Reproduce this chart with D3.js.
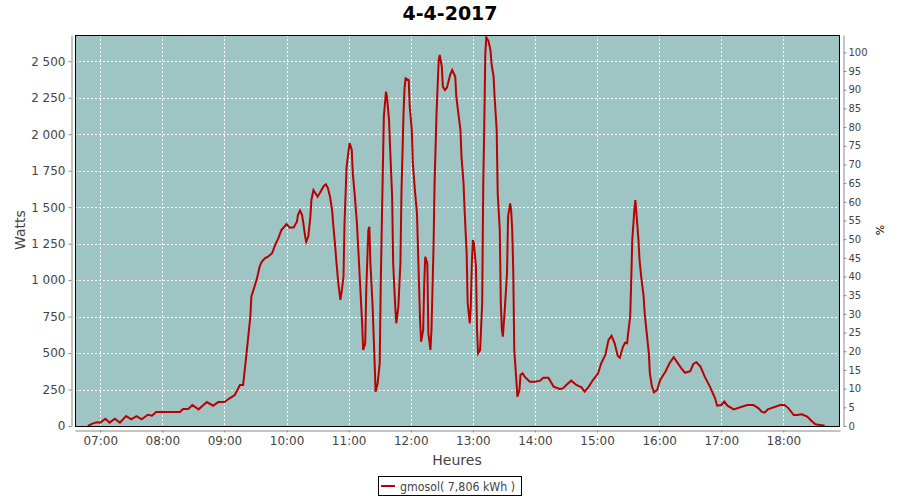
<!DOCTYPE html>
<html><head><meta charset="utf-8">
<script src="https://cdn.jsdelivr.net/npm/d3@7"></script>
<style>body{margin:0;background:#fff;} svg{display:block;}</style>
</head><body>
<svg id="chart" width="900" height="500"></svg>
<script>
const title = "4-4-2017";
const seriesName = "gmosol( 7,806 kWh )";
const times = ["06:48","06:53","06:57","07:00","07:05","07:09","07:14","07:19","07:25","07:30","07:35","07:40","07:46","07:50","07:54","08:17","08:20","08:25","08:29","08:35","08:43","08:49","08:54","09:00","09:05","09:10","09:15","09:18","09:21","09:25","09:26","09:28","09:31","09:34","09:36","09:39","09:42","09:46","09:49","09:52","09:55","10:00","10:03","10:07","10:10","10:11","10:13","10:15","10:16","10:18","10:19","10:21","10:23","10:24","10:26","10:27","10:30","10:32","10:36","10:38","10:40","10:42","10:44","10:45","10:47","10:48","10:50","10:52","10:53","10:55","10:56","10:58","11:00","11:01","11:03","11:04","11:06","11:08","11:09","11:11","11:13","11:14","11:16","11:17","11:19","11:20","11:21","11:23","11:25","11:26","11:28","11:30","11:31","11:33","11:34","11:36","11:37","11:39","11:40","11:42","11:43","11:45","11:46","11:48","11:50","11:51","11:53","11:54","11:55","11:58","11:59","12:01","12:02","12:04","12:06","12:07","12:09","12:10","12:12","12:13","12:14","12:16","12:17","12:19","12:20","12:22","12:23","12:25","12:27","12:28","12:30","12:31","12:33","12:35","12:38","12:40","12:43","12:44","12:46","12:48","12:49","12:51","12:52","12:54","12:55","12:57","12:58","12:59","13:00","13:01","13:03","13:04","13:05","13:07","13:09","13:10","13:11","13:12","13:13","13:15","13:17","13:18","13:20","13:21","13:23","13:24","13:26","13:27","13:28","13:29","13:31","13:33","13:34","13:36","13:37","13:38","13:39","13:40","13:42","13:43","13:45","13:46","13:48","13:50","13:55","14:00","14:05","14:08","14:13","14:18","14:24","14:27","14:31","14:35","14:40","14:45","14:48","14:52","14:56","15:01","15:04","15:08","15:11","15:14","15:17","15:20","15:22","15:25","15:27","15:29","15:30","15:32","15:33","15:34","15:36","15:37","15:38","15:40","15:41","15:43","15:45","15:46","15:48","15:50","15:51","15:53","15:55","15:58","16:01","16:06","16:10","16:14","16:17","16:22","16:25","16:30","16:33","16:36","16:40","16:44","16:49","16:54","16:56","17:00","17:03","17:06","17:12","17:25","17:31","17:36","17:39","17:42","17:45","17:57","18:01","18:05","18:10","18:13","18:18","18:23","18:27","18:31","18:40"];
const watts = [0,18,25,23,50,23,50,23,68,46,68,46,77,71,96,96,117,117,144,114,164,139,164,164,190,212,281,281,475,749,886,932,1000,1092,1126,1149,1160,1184,1241,1286,1343,1384,1359,1362,1400,1446,1476,1446,1400,1298,1263,1298,1435,1549,1617,1606,1572,1595,1645,1657,1629,1572,1480,1389,1229,1138,978,864,909,1023,1389,1777,1892,1938,1892,1732,1572,1389,1252,978,704,521,567,932,1343,1366,1115,841,452,235,293,430,978,1755,2120,2291,2257,2097,1914,1572,1115,818,704,818,1115,1595,2143,2314,2383,2371,2188,2029,1800,1617,1458,1206,726,578,658,978,1160,1115,635,521,658,1229,1663,2166,2509,2543,2463,2326,2303,2320,2406,2440,2394,2257,2143,2029,1846,1663,1480,1184,841,704,818,1115,1275,1252,1092,658,498,520,841,1640,2051,2550,2664,2640,2577,2486,2394,2257,2029,1595,1343,841,658,612,818,1047,1435,1526,1480,1343,1069,521,315,201,247,350,361,338,304,304,311,331,330,270,254,258,286,311,281,265,235,270,315,361,430,487,589,619,567,480,468,543,571,567,635,749,1001,1275,1480,1549,1458,1275,1138,1001,886,772,635,498,361,270,231,247,315,372,430,471,441,389,365,375,425,437,406,338,270,190,139,144,167,139,114,144,144,121,98,91,114,144,144,121,75,75,80,64,36,12,2,0];
const xDomain = ["06:35:36","18:54:42"];
const xTicks = ["07:00","08:00","09:00","10:00","11:00","12:00","13:00","14:00","15:00","16:00","17:00","18:00"];
const wattTicks = [0,250,500,750,1000,1250,1500,1750,2000,2250,2500];
const wattMax = 2680;
const pctTicks = [0,5,10,15,20,25,30,35,40,45,50,55,60,65,70,75,80,85,90,95,100];
const pctMax = 104.64;

const svg = d3.select("#chart");
const L = 75, R = 840, T = 35, B = 426;
const pHM = d3.timeParse("%H:%M"), pHMS = d3.timeParse("%H:%M:%S");
const data = times.map((t,i) => ({t: pHM(t), v: watts[i]}));

const x = d3.scaleTime().domain(xDomain.map(pHMS)).range([L, R]);
const y = d3.scaleLinear().domain([0, wattMax]).range([B, T]);
const y2 = d3.scaleLinear().domain([0, pctMax]).range([B, T]);

const font = "'DejaVu Sans', sans-serif";
const textCol = "#444444", axisCol = "#888888";

// title
svg.append("text").attr("x", 450).attr("y", 20).attr("text-anchor","middle")
  .attr("font-family", font).attr("font-weight","bold").attr("font-size", 19)
  .attr("fill","#000").text(title);

// plot background
svg.append("rect").attr("x", L).attr("y", T).attr("width", R-L).attr("height", B-T).attr("fill", "#9ec4c4");

// gridlines
const grid = svg.append("g").attr("stroke","#ffffff").attr("stroke-width",1).attr("stroke-dasharray","2,2");
xTicks.map(pHM).forEach(d => {
  const xx = Math.round(x(d)) + 0.5;
  grid.append("line").attr("x1",xx).attr("x2",xx).attr("y1",T).attr("y2",B);
});
wattTicks.forEach(d => {
  const yy = Math.round(y(d)) + 0.5;
  grid.append("line").attr("x1",L).attr("x2",R).attr("y1",yy).attr("y2",yy);
});

// line
svg.append("clipPath").attr("id","clip").append("rect").attr("x",L).attr("y",T).attr("width",R-L).attr("height",B-T);
svg.append("path").datum(data).attr("clip-path","url(#clip)")
  .attr("fill","none").attr("stroke","#bb0000").attr("stroke-width",2).attr("stroke-linejoin","miter")
  .attr("d", d3.line().x(d => x(d.t)).y(d => y(d.v)));

// plot border
svg.append("rect").attr("x", L+0.5).attr("y", T+0.5).attr("width", R-L-1).attr("height", B-T).attr("fill","none").attr("stroke","#000").attr("stroke-width",1);

function styleAxis(g, fs) {
  g.select(".domain").attr("stroke", axisCol);
  g.selectAll(".tick line").attr("stroke", axisCol);
  g.selectAll(".tick text").attr("fill", textCol).attr("font-family", font).attr("font-size", fs);
}
const spaceFmt = d => d3.format(",")(d).replace(/,/g, " ");

const gl = svg.append("g").attr("transform", `translate(${L-3.5},0)`)
  .call(d3.axisLeft(y).tickValues(wattTicks).tickFormat(spaceFmt).tickSize(3).tickSizeOuter(0).tickPadding(3));
styleAxis(gl, 12);

const gb = svg.append("g").attr("transform", `translate(0,${B+4.5})`)
  .call(d3.axisBottom(x).tickValues(xTicks.map(pHM)).tickFormat(d3.timeFormat("%H:%M")).tickSize(2).tickSizeOuter(0).tickPadding(4));
styleAxis(gb, 12);

const gr = svg.append("g").attr("transform", `translate(${R+3.5},0)`)
  .call(d3.axisRight(y2).tickValues(pctTicks).tickFormat(d3.format("d")).tickSize(3).tickSizeOuter(0).tickPadding(2));
styleAxis(gr, 10);

// axis titles
svg.append("text").attr("x", 457).attr("y", 465).attr("text-anchor","middle")
  .attr("font-family", font).attr("font-size", 14).attr("fill", textCol).text("Heures");
svg.append("text").attr("transform","translate(25,230) rotate(-90)").attr("text-anchor","middle")
  .attr("font-family", font).attr("font-size", 14).attr("fill", textCol).text("Watts");
svg.append("text").attr("transform","translate(884,230) rotate(-90)").attr("text-anchor","middle")
  .attr("font-family", font).attr("font-size", 11).attr("fill", "#000").text("%");

// legend
const lg = svg.append("g");
lg.append("rect").attr("x", 378.5).attr("y", 476.5).attr("width", 143).attr("height", 19).attr("fill","#fff").attr("stroke","#000");
lg.append("line").attr("x1", 381).attr("x2", 395).attr("y1", 486).attr("y2", 486).attr("stroke","#bb0000").attr("stroke-width",2);
lg.append("text").attr("x", 400).attr("y", 490.5).attr("font-family", font).attr("font-size", 12)
  .attr("textLength", 115).attr("lengthAdjust", "spacingAndGlyphs").attr("fill", textCol).text(seriesName);
</script>
</body></html>
